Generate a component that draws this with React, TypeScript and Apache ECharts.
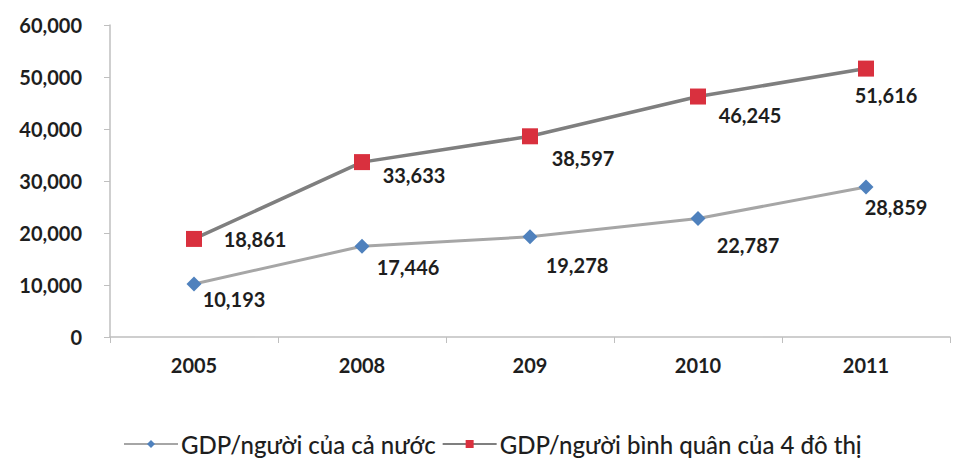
import React, { useEffect, useRef } from "react";
import * as echarts from "echarts";

const categories = ["2005", "2008", "209", "2010", "2011"];
const nationalGdp = [10193, 17446, 19278, 22787, 28859];
const urbanGdp = [18861, 33633, 38597, 46245, 51616];
const seriesNames = ["GDP/người của cả nước", "GDP/người bình quân của 4 đô thị"];

const nationalLabelOffsets = [[40, 15], [46, 21], [47, 28], [50, 26], [30, 20]];
const urbanLabelOffsets = [[61, 0], [52, 13], [53, 22], [52, 18], [20, 26]];

const FONT = "Lato";
const TEXT = "#1e1e1e";

function fmt(v: number) {
  return v.toLocaleString("en-US");
}

export default function App() {
  const ref = useRef<HTMLDivElement>(null);
  useEffect(() => {
    if (!ref.current) return;
    const chart = echarts.init(ref.current, undefined, { renderer: "svg" });
    const labelStyle = {
      show: true,
      position: "inside",
      color: TEXT,
      fontFamily: FONT,
      fontSize: 20,
      fontWeight: "bold",
      formatter: (p: any) => fmt(p.value),
    };
    chart.setOption({
      animation: false,
      backgroundColor: "#ffffff",
      grid: { left: 110, right: 5, top: 25, bottom: 121 },
      legend: {
        left: 118,
        top: 427,
        itemWidth: 54,
        itemHeight: 10,
        itemGap: 6,
        textStyle: { color: TEXT, fontFamily: FONT, fontSize: 24, fontWeight: 500, padding: [0, 0, 0, -2] },
        data: seriesNames,
      },
      xAxis: {
        type: "category",
        data: categories,
        boundaryGap: true,
        axisLine: { lineStyle: { color: "#bfbfbf", width: 1.5 } },
        axisTick: { show: true, length: 6, lineStyle: { color: "#bfbfbf" } },
        axisLabel: { color: TEXT, fontFamily: FONT, fontSize: 20, fontWeight: "bold", margin: 18 },
      },
      yAxis: {
        type: "value",
        min: 0,
        max: 60000,
        interval: 10000,
        axisLine: { show: true, lineStyle: { color: "#bfbfbf", width: 1.5 } },
        axisTick: { show: true, length: 6, lineStyle: { color: "#bfbfbf" } },
        splitLine: { show: false },
        axisLabel: {
          color: TEXT,
          fontFamily: FONT,
          fontSize: 20,
          fontWeight: "bold",
          margin: 28,
          formatter: (v: number) => fmt(v),
        },
      },
      series: [
        {
          name: seriesNames[0],
          type: "line",
          symbol: "diamond",
          symbolSize: 15,
          itemStyle: { color: "#4f81bd" },
          lineStyle: { color: "#a6a6a6", width: 3 },
          data: nationalGdp.map((v, i) => ({
            value: v,
            label: { ...labelStyle, offset: nationalLabelOffsets[i] },
          })),
          z: 2,
        },
        {
          name: seriesNames[1],
          type: "line",
          symbol: "rect",
          symbolSize: 16,
          itemStyle: { color: "#d9303e" },
          lineStyle: { color: "#7f7f7f", width: 3.5 },
          data: urbanGdp.map((v, i) => ({
            value: v,
            label: { ...labelStyle, offset: urbanLabelOffsets[i] },
          })),
          z: 3,
        },
      ],
    });
    return () => chart.dispose();
  }, []);
  return <div ref={ref} style={{ width: 955, height: 458, position: "absolute", left: 0, top: 0 }} />;
}
